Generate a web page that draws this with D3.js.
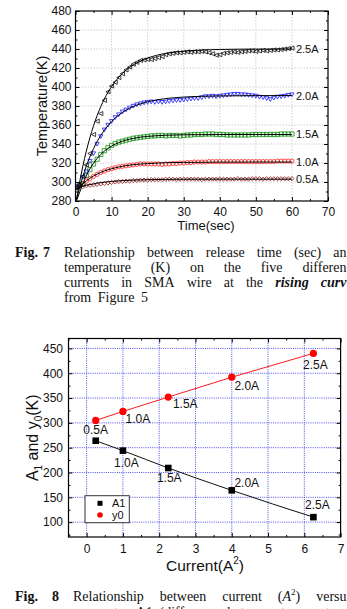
<!DOCTYPE html>
<html><head><meta charset="utf-8">
<script src="https://cdn.jsdelivr.net/npm/d3@7"></script>
<style>
body{margin:0;background:#fff;}
svg{display:block;}
text{font-family:"Liberation Sans",Arial,sans-serif;fill:#111;}
.cap{font-family:"Liberation Serif","Times New Roman",serif;font-size:14px;}
</style></head><body>
<svg id="c" width="347" height="609"></svg>
<script>
// ================= DATA : Fig. 7 =================
const times = [0,1,2,3,4,5,6,7,8,9,10,11,12,13,14,15,16,17,18,19,20,21,22,23,24,25,26,27,28,29,30,
  31,32,33,34,35,36,37,38,39,40,41,42,43,44,45,46,47,48,49,50,51,52,53,54,55,56,57,58,59,60];
const temp05 = [294,294.5,295,296,296.5,297,297.5,298,298.5,299,
  299.5,300,300.5,300.5,301,301,301.5,301.5,302,302,
  302,302.5,302.5,302.5,302.5,303,303,303,302.5,303,
  303,303,303,303,303,302.5,303,303,303,303,
  303,303,303,303,303,303.5,303,303,303,303.5,
  303.5,303.5,303,303.5,303.5,303.5,303.5,303.5,303.5,303.5,303.5];
const temp10 = [295,296,298,301,303.5,306,308,310,311.5,313,
  314,315,316,316.5,317,317.5,318,318.5,319,319,
  319,319,319,319,318.5,319,319,319.5,319.5,320,
  320,320.5,320.5,321,321,321,321,321.5,321.5,321.5,
  321.5,321.5,321.5,321.5,321.5,321.5,321.5,321.5,321.5,321.5,
  321.5,321.5,321.5,321.5,321.5,321.5,322,322,322,322,322];
const temp15 = [295,296,298,307,313,319,324,329,333,336,
  338.5,340.5,342,343,344,345,346,346.5,347,347.5,
  348,348.5,348.5,349,349,348.5,349,349,349,348.5,
  349,349.5,349.5,350,350,350,350.5,350.5,350.5,350,
  350,350,349.5,349.5,349.5,349.5,349.5,349.5,349.5,350,
  350,350,350,350,350,350,350,350.5,350.5,350.5,350.5];
const temp20 = [294,296,305,311,322,330,340,348,355,360,
  364,368,371,374,376,378,380,381.5,382.5,383.5,
  384,384.5,384,384.5,384,384.5,385,385.5,386,386,
  386.5,387,387.5,388,388,389,390,390,390.5,390,
  390.5,391,391.5,392,392.5,392.5,392,392,391.5,391,
  390.5,389.5,389,388,387,388.5,389.5,390,390.5,391.5,392];
const temp25 = [294,297,306,318,330,350,364,372,386,395,
  401,405,410,414,418,421,424,426,428,428.5,
  429,429,430,431,432,434,435,435.5,436,436,
  436.5,437,436.5,437,437,437.5,437,436,435,433.5,
  434,435.5,436,436.5,437,436.5,437,437.5,438,438,
  437.5,438,438.5,438,438.5,439,439,439.5,440,440.5,441];
// fitted curves
const fitTimes = [0.3,1,2,3,4,5,6,7,8,10,12,14,16,18,20,25,30,40,50,60];
const fit05 = [293.4,294.3,295.5,296.5,297.3,297.9,298.8,299.3,299.8,300.6,301.2,301.6,302,302.2,302.4,302.7,302.9,303,303,303];
const fit10 = [291.4,294.3,298,301.2,303.9,306.3,308.3,310.1,311.6,314,315.8,317.2,318.2,318.9,319.4,320.3,320.6,320.9,321,321];
const fit15 = [280.5,287.5,297.9,306.5,313.8,319.8,324.8,329,332.5,337.8,341.5,344.1,345.9,347.2,348,349.2,349.7,350,350,350];
const fit20 = [281.8,292.2,305.4,316.8,326.6,335.1,342.7,349,354.6,363.6,370.5,375.6,379.4,382.3,384.5,387.8,389.4,390.6,390.9,391];
const fit25 = [282,297,316,332.5,346.8,359.2,370,379.3,387.4,400.4,410.3,417.7,423.2,427.4,430.5,435.4,437.7,439.5,439.9,440];
const seriesNames7 = ["0.5A","1.0A","1.5A","2.0A","2.5A"];
const xTicks7 = [0,10,20,30,40,50,60,70];
const yTicks7 = [280,300,320,340,360,380,400,420,440,460,480];

// ================= DATA : Fig. 8 =================
const currentSq = [0.25,1,2.25,4,6.25];
const a1Values = [264,244,209,164,110];
const y0Values = [305,323,352,392,440];
const pointLabels = ["0.5A","1.0A","1.5A","2.0A","2.5A"];
const xTicks8 = [0,1,2,3,4,5,6,7];
const yTicks8 = [100,150,200,250,300,350,400,450];

// ================= DRAW =================
const svg = d3.select("#c");

function drawAxes(g, xs, ys, box, xt, yt, xMinor, yMinor, opt) {
  const b = g.append("g").attr("transform", `translate(0,${box.b})`)
    .call(d3.axisBottom(xs).tickValues(xt).tickSize(-4).tickPadding(opt.xpad).tickFormat(d3.format("d")));
  const l = g.append("g").attr("transform", `translate(${box.l},0)`)
    .call(d3.axisLeft(ys).tickValues(yt).tickSize(-4).tickPadding(opt.ypad).tickFormat(d3.format("d")));
  const t = g.append("g").attr("transform", `translate(0,${box.t})`)
    .call(d3.axisTop(xs).tickValues(xt).tickSize(-4).tickFormat(""));
  const r = g.append("g").attr("transform", `translate(${box.r},0)`)
    .call(d3.axisRight(ys).tickValues(yt).tickSize(-4).tickFormat(""));
  const mb = g.append("g").attr("transform", `translate(0,${box.b})`).call(d3.axisBottom(xs).tickValues(xMinor).tickSize(-2).tickFormat(""));
  const mt = g.append("g").attr("transform", `translate(0,${box.t})`).call(d3.axisTop(xs).tickValues(xMinor).tickSize(-2).tickFormat(""));
  const ml = g.append("g").attr("transform", `translate(${box.l},0)`).call(d3.axisLeft(ys).tickValues(yMinor).tickSize(-2).tickFormat(""));
  const mr = g.append("g").attr("transform", `translate(${box.r},0)`).call(d3.axisRight(ys).tickValues(yMinor).tickSize(-2).tickFormat(""));
  [b,l,t,r,mb,mt,ml,mr].forEach(a => {
    a.select(".domain").remove();
    a.selectAll("line").attr("stroke", "#000").attr("stroke-width", 1);
    a.selectAll("text").attr("font-size", opt.fs).attr("font-family", '"Liberation Sans",Arial,sans-serif').attr("fill", "#111");
  });
  g.append("rect").attr("x", box.l).attr("y", box.t).attr("width", box.r - box.l).attr("height", box.b - box.t)
    .attr("fill", "none").attr("stroke", "#000").attr("stroke-width", 1.2);
}

function grid(g, xs, ys, box, xt, yt, color, dash, w) {
  g.append("g").selectAll("line").data(xt).join("line")
    .attr("x1", d => xs(d)).attr("x2", d => xs(d)).attr("y1", box.t).attr("y2", box.b)
    .attr("stroke", color).attr("stroke-dasharray", dash).attr("stroke-width", w);
  g.append("g").selectAll("line").data(yt).join("line")
    .attr("y1", d => ys(d)).attr("y2", d => ys(d)).attr("x1", box.l).attr("x2", box.r)
    .attr("stroke", color).attr("stroke-dasharray", dash).attr("stroke-width", w);
}

// ---------- Fig 7 ----------
const box7 = {l: 75.5, r: 328, t: 11, b: 201};
const x7 = d3.scaleLinear().domain([0, 70]).range([box7.l, box7.r]);
const y7 = d3.scaleLinear().domain([280, 480]).range([box7.b, box7.t]);
const g7 = svg.append("g");
grid(g7, x7, y7, box7, xTicks7.slice(1, -1), yTicks7.slice(1, -1), "#c4c4c4", "1.5,1.5", 0.8);

const shapes = {
  diamond: h => `M0,${-h}L${h},0L0,${h}L${-h},0Z`,
  circle: h => `M${-h},0A${h},${h} 0 1,0 ${h},0A${h},${h} 0 1,0 ${-h},0Z`,
  square: h => `M${-h},${-h}H${h}V${h}H${-h}Z`,
  tridown: h => `M${-h},${-h*0.8}H${h}L0,${h}Z`,
  trileft: h => `M${h},${-h}V${h}L${-h},0Z`
};
const series7 = [
  {name: seriesNames7[0], vals: temp05, fit: fit05, color: "#9b1b1b", shape: "diamond"},
  {name: seriesNames7[1], vals: temp10, fit: fit10, color: "#ff2020", shape: "circle"},
  {name: seriesNames7[2], vals: temp15, fit: fit15, color: "#109010", shape: "square"},
  {name: seriesNames7[3], vals: temp20, fit: fit20, color: "#1a1aff", shape: "tridown"},
  {name: seriesNames7[4], vals: temp25, fit: fit25, color: "#111", shape: "trileft"}
];
g7.append("clipPath").attr("id", "cp7").append("rect")
  .attr("x", box7.l).attr("y", box7.t).attr("width", box7.r - box7.l).attr("height", box7.b - box7.t);
const plot7 = g7.append("g").attr("clip-path", "url(#cp7)");
series7.forEach(s => {
  plot7.append("g").selectAll("path").data(s.vals).join("path")
    .attr("d", shapes[s.shape](2.1))
    .attr("transform", (d, i) => `translate(${x7(times[i])},${y7(d)})`)
    .attr("fill", "none").attr("stroke", s.color).attr("stroke-width", 0.8);
});
const line7 = d3.line().curve(d3.curveMonotoneX);
series7.forEach(s => {
  plot7.append("path").attr("d", line7(fitTimes.map((t, i) => [x7(t), y7(s.fit[i])])))
    .attr("fill", "none").attr("stroke", "#000").attr("stroke-width", 1);
});
series7.forEach(s => {
  g7.append("text").attr("x", x7(60) + 4).attr("y", y7(s.fit[s.fit.length - 1]))
    .attr("dy", "0.36em").attr("font-size", 11).attr("fill", "#222").text(s.name);
});
drawAxes(g7, x7, y7, box7, xTicks7, yTicks7, [5,15,25,35,45,55,65], [290,310,330,350,370,390,410,430,450,470], {fs: 12, xpad: 6.5, ypad: 4});
g7.append("text").attr("transform", `translate(47,${(box7.t + box7.b) / 2}) rotate(-90)`)
  .attr("text-anchor", "middle").attr("font-size", 14.5).text("Temperature(K)");
g7.append("text").attr("x", 206).attr("y", 230).attr("text-anchor", "middle").attr("font-size", 13).text("Time(sec)");

// ---------- captions (text is cut at the page edge as in the source scan) ----------
function word(g, w, y) {
  const t = g.append("text").attr("class", "cap").attr("y", y);
  (Array.isArray(w) ? w : [w]).forEach(seg => {
    const o = typeof seg === "string" ? {t: seg} : seg;
    const ts = t.append("tspan").text(o.t);
    if (o.b) ts.attr("font-weight", "bold");
    if (o.i) ts.attr("font-style", "italic");
    if (o.sup) ts.attr("font-size", 9).attr("dy", -6);
    if (o.down) ts.attr("dy", o.down);
  });
  return t;
}
function justify(g, words, x0, x1, y) {
  const els = words.map(w => word(g, w, y));
  const ws = els.map(e => e.node().getComputedTextLength());
  const gap = (x1 - x0 - d3.sum(ws)) / (words.length - 1);
  let x = x0;
  els.forEach((e, i) => { e.attr("x", x); x += ws[i] + gap; });
}
const cap = svg.append("g");
word(cap, {t: "Fig.", b: 1}, 256.5).attr("x", 15);
word(cap, {t: "7", b: 1}, 256.5).attr("x", 43);
justify(cap, ["Relationship", "between", "release", "time", "(sec)", "an"], 64, 346.5, 256.5);
justify(cap, ["temperature", "(K)", "on", "the", "five", "differen"], 64, 346.5, 271.5);
justify(cap, ["currents", "in", "SMA", "wire", "at", "the", {t: "rising", b: 1, i: 1}, {t: "curv", b: 1, i: 1}], 64, 346.5, 286.5);
justify(cap, ["from", "Figure", "5"], 64, 148, 301.5);

word(cap, {t: "Fig.", b: 1}, 601).attr("x", 15);
word(cap, {t: "8", b: 1}, 601).attr("x", 52);
justify(cap, ["Relationship", "between", "current", ["(", {t: "A", i: 1}, {t: "2", sup: 1}, {t: ")", down: 6}], "versu"], 73, 346.5, 601);
justify(cap, ["parameter", "A1", "(difference", "between", "temperatures"], 73, 353, 617);

// ---------- Fig 8 ----------
const box8 = {l: 68.5, r: 340.6, t: 338.5, b: 537};
const x8 = d3.scaleLinear().domain([-0.5, 7]).range([box8.l, box8.r]);
const y8 = d3.scaleLinear().domain([70, 470]).range([box8.b, box8.t]);
const g8 = svg.append("g");
grid(g8, x8, y8, box8, xTicks8.slice(0, -1), yTicks8, "#3b3bf0", "1,1.2", 0.9);
g8.append("path").attr("d", d3.line()(currentSq.map((c, i) => [x8(c), y8(y0Values[i])])))
  .attr("fill", "none").attr("stroke", "#ff1a1a").attr("stroke-width", 1);
g8.append("path").attr("d", d3.line().curve(d3.curveMonotoneX)(currentSq.map((c, i) => [x8(c), y8(a1Values[i])])))
  .attr("fill", "none").attr("stroke", "#111").attr("stroke-width", 1);
g8.append("g").selectAll("rect").data(a1Values).join("rect")
  .attr("x", (d, i) => x8(currentSq[i]) - 3.3).attr("y", d => y8(d) - 3.3)
  .attr("width", 6.6).attr("height", 6.6).attr("fill", "#000");
g8.append("g").selectAll("circle").data(y0Values).join("circle")
  .attr("cx", (d, i) => x8(currentSq[i])).attr("cy", d => y8(d)).attr("r", 3.6).attr("fill", "#ff0000");
// point labels (offsets in px)
const y0LabOff = [[0, 9], [15, 7], [17, 6.6], [15, 8], [2, 11]];
const a1LabOff = [null, [3.5, 12], [1, 10], [15, -8], [4, -12]];
pointLabels.forEach((p, i) => {
  g8.append("text").attr("x", x8(currentSq[i]) + y0LabOff[i][0]).attr("y", y8(y0Values[i]) + y0LabOff[i][1])
    .attr("dy", "0.36em").attr("text-anchor", "middle").attr("font-size", 12).text(p);
  if (a1LabOff[i]) g8.append("text").attr("x", x8(currentSq[i]) + a1LabOff[i][0]).attr("y", y8(a1Values[i]) + a1LabOff[i][1])
    .attr("dy", "0.36em").attr("text-anchor", "middle").attr("font-size", 12).text(p);
});
drawAxes(g8, x8, y8, box8, xTicks8, yTicks8, [-0.5,0.5,1.5,2.5,3.5,4.5,5.5,6.5], [75,125,175,225,275,325,375,425], {fs: 12, xpad: 7, ypad: 5.5});
// legend
const lg = g8.append("g");
lg.append("rect").attr("x", 85).attr("y", 495.7).attr("width", 44.3).attr("height", 27).attr("fill", "#fff").attr("stroke", "#333").attr("stroke-width", 1);
lg.append("rect").attr("x", 97.5).attr("y", 500.8).attr("width", 5).attr("height", 5).attr("fill", "#000");
lg.append("circle").attr("cx", 100).attr("cy", 515).attr("r", 2.8).attr("fill", "#ff0000");
lg.append("text").attr("x", 112).attr("y", 503.3).attr("dy", "0.36em").attr("font-size", 11).text("A1");
lg.append("text").attr("x", 112).attr("y", 515).attr("dy", "0.36em").attr("font-size", 11).text("y0");
// axis titles
const yt8 = g8.append("text").attr("transform", `translate(38,${(box8.t + box8.b) / 2}) rotate(-90)`)
  .attr("text-anchor", "middle").attr("font-size", 16);
yt8.append("tspan").text("A");
yt8.append("tspan").attr("font-size", 10).attr("dy", 4).text("1");
yt8.append("tspan").attr("dy", -4).text(" and y");
yt8.append("tspan").attr("font-size", 10).attr("dy", 4).text("0");
yt8.append("tspan").attr("dy", -4).text("(K)");
const xt8 = g8.append("text").attr("x", 205).attr("y", 571).attr("text-anchor", "middle").attr("font-size", 15.5);
xt8.append("tspan").text("Current(A");
xt8.append("tspan").attr("font-size", 10).attr("dy", -7).text("2");
xt8.append("tspan").attr("dy", 7).text(")");
</script>
</body></html>
